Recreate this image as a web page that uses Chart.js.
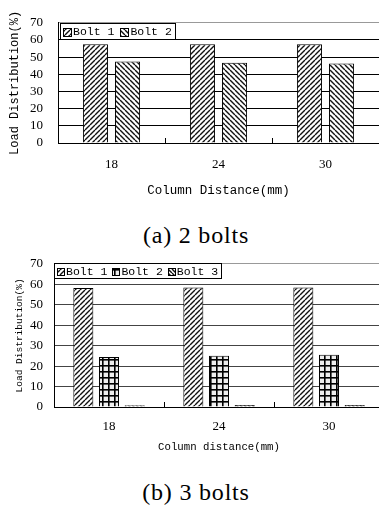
<!DOCTYPE html>
<html>
<head>
<meta charset="utf-8">
<script src="https://cdn.jsdelivr.net/npm/chart.js@4/dist/chart.umd.min.js"></script>
<style>
  html, body { margin: 0; padding: 0; background: #fff; overflow: hidden; width: 379px; height: 507px; }
  canvas { position: absolute; left: 0; }
  #chartA { top: 0; }
  #chartB { top: 245px; }
  .caption { position: absolute; left: 0; width: 392px; text-align: center; font-family: "Liberation Serif", serif; font-size: 24px; letter-spacing: 0.8px; color: #000; }
  #capA { top: 222px; }
  #capB { top: 479px; }
</style>
</head>
<body>
<canvas id="chartA" width="379" height="205"></canvas>
<div class="caption" id="capA">(a) 2 bolts</div>
<canvas id="chartB" width="384" height="214"></canvas>
<div class="caption" id="capB">(b) 3 bolts</div>

<script>
// column distances (mm)
const distances = ['18', '24', '30'];
const yTickValues = [0, 10, 20, 30, 40, 50, 60, 70];

// (a) 2 bolts
const twoBolt1 = [57.5, 57.5, 57.5];
const twoBolt2 = [47.4, 46.8, 46.3];

// (b) 3 bolts
const threeBolt1 = [58.2, 58.4, 58.4];
const threeBolt2 = [24.4, 25.1, 25.6];
const threeBolt3 = [0.9, 1.0, 1.0];

// hatch fills like the old office charts
function hatch(dir, step) {
    const c = document.createElement('canvas');
    c.width = step;
    c.height = step;
    const g = c.getContext('2d');
    g.fillStyle = '#fff';
    g.fillRect(0, 0, step, step);
    g.strokeStyle = '#111';
    g.lineWidth = 1.4;
    g.beginPath();
    for (let k = -1; k <= 1; k++) {
        if (dir > 0) {
            g.moveTo(k * step, step);
            g.lineTo(k * step + step, 0);
        } else {
            g.moveTo(k * step, 0);
            g.lineTo(k * step + step, step);
        }
    }
    g.stroke();
    return g.createPattern(c, 'repeat');
}

function gridFill(cell) {
    const c = document.createElement('canvas');
    c.width = cell;
    c.height = cell;
    const g = c.getContext('2d');
    g.fillStyle = '#eee';
    g.fillRect(0, 0, cell, cell);
    g.fillStyle = '#000';
    g.fillRect(0, 0, cell, 1.6);
    g.fillRect(0, 0, 1.6, cell);
    return g.createPattern(c, 'repeat');
}

// one-row framed legend sitting inside the top of the plot
const boxLegend = {
    id: 'boxLegend',
    afterDraw(chart, args, o) {
        const ctx = chart.ctx;
        const area = chart.chartArea;
        ctx.save();
        ctx.font = o.size + 'px "Liberation Mono"';
        let x = area.left + o.inset + o.pad;
        const items = chart.data.datasets.map(ds => {
            const w = ctx.measureText(ds.label).width;
            const it = { ds, x, w };
            x += o.box + o.gap + w + o.space;
            return it;
        });
        const left = Math.round(area.left + o.inset) + 0.5;
        const right = Math.round(x - o.space + o.pad) + 0.5;
        const top = Math.round(area.top + o.offsetY) + 0.5;
        ctx.fillStyle = '#fff';
        ctx.fillRect(left, top, right - left, o.height);
        ctx.strokeStyle = '#000';
        ctx.lineWidth = 1;
        ctx.strokeRect(left, top, right - left, o.height);
        const mid = top + o.height / 2;
        items.forEach(it => {
            const by = Math.round(mid - o.box / 2) + 0.5;
            const bx = Math.round(it.x) + 0.5;
            ctx.fillStyle = it.ds.backgroundColor;
            ctx.fillRect(bx, by, o.box, o.box);
            ctx.strokeStyle = '#000';
            ctx.strokeRect(bx, by, o.box, o.box);
            ctx.fillStyle = '#000';
            ctx.textBaseline = 'middle';
            ctx.textAlign = 'left';
            ctx.fillText(it.ds.label, it.x + o.box + o.gap, mid + 0.5);
        });
        ctx.restore();
    }
};

function makeChart(id, sets, o) {
    const ctx = document.getElementById(id).getContext('2d');
    return new Chart(ctx, {
        type: 'bar',
        data: {
            labels: distances,
            datasets: sets
        },
        options: {
            responsive: false,
            animation: false,
            events: [],
            layout: { padding: { top: o.padTop, left: 0, right: 0, bottom: 0 } },
            datasets: {
                bar: {
                    categoryPercentage: o.catPct,
                    barPercentage: 0.78,
                    borderColor: '#000',
                    borderWidth: 1
                }
            },
            plugins: {
                tooltip: { enabled: false },
                legend: { display: false },
                boxLegend: o.legend
            },
            scales: {
                x: {
                    afterFit: s => { s.height = o.xHeight; },
                    border: { color: '#000', width: 1 },
                    grid: {
                        drawOnChartArea: false,
                        drawTicks: true,
                        tickLength: -5,
                        color: '#000'
                    },
                    ticks: {
                        padding: o.xTickPad,
                        color: '#000',
                        font: { family: 'Liberation Serif', size: 13 }
                    },
                    title: {
                        display: true,
                        text: o.xTitle,
                        color: '#000',
                        padding: { top: 0, bottom: o.xTitlePad },
                        font: { family: 'Liberation Mono', size: o.xTitleSize }
                    }
                },
                y: {
                    min: yTickValues[0],
                    max: yTickValues[yTickValues.length - 1],
                    afterFit: s => { s.width = o.yWidth; },
                    afterBuildTicks: s => { s.ticks = yTickValues.map(v => ({ value: v })); },
                    border: { color: '#000', width: 1 },
                    grid: {
                        drawTicks: false,
                        color: c => c.index === yTickValues.length - 1 ? '#999' : o.gridColor
                    },
                    ticks: {
                        autoSkip: false,
                        padding: o.yTickPad,
                        color: '#000',
                        font: { family: 'Liberation Serif', size: 13 }
                    },
                    title: {
                        display: true,
                        text: 'Load Distribution(%)',
                        color: '#000',
                        padding: { top: o.yTitlePad, bottom: 0 },
                        font: { family: 'Liberation Mono', size: o.yTitleSize }
                    }
                }
            }
        },
        plugins: [boxLegend]
    });
}

const slashFill = hatch(1, 5);
const backFill = hatch(-1, 5);
const backFillB = hatch(-1, 4);
const checkFill = gridFill(6);

makeChart('chartA', [
    { label: 'Bolt 1', data: twoBolt1, backgroundColor: slashFill },
    { label: 'Bolt 2', data: twoBolt2, backgroundColor: backFill }
], {
    padTop: 17, catPct: 0.6,
    legend: { size: 11.5, box: 8, gap: 2, space: 6, pad: 3, inset: 2, offsetY: 0, height: 16 },
    xHeight: 62, xTickPad: 19, xTitle: 'Column Distance(mm)', xTitleSize: 12.5, xTitlePad: 7,
    yWidth: 58, yTickPad: 15, yTitlePad: 8, yTitleSize: 12, gridColor: '#000'
});

makeChart('chartB', [
    { label: 'Bolt 1', data: threeBolt1, backgroundColor: slashFill },
    { label: 'Bolt 2', data: threeBolt2, backgroundColor: checkFill },
    { label: 'Bolt 3', data: threeBolt3, backgroundColor: backFillB }
], {
    padTop: 18, catPct: 0.7,
    legend: { size: 11.5, box: 7, gap: 2, space: 5, pad: 3, inset: 0, offsetY: -1, height: 15 },
    xHeight: 52, xTickPad: 17, xTitle: 'Column distance(mm)', xTitleSize: 10.7, xTitlePad: 5,
    yWidth: 54, yTickPad: 11, yTitlePad: 14, yTitleSize: 9.5, gridColor: '#444'
});
</script>
</body>
</html>
